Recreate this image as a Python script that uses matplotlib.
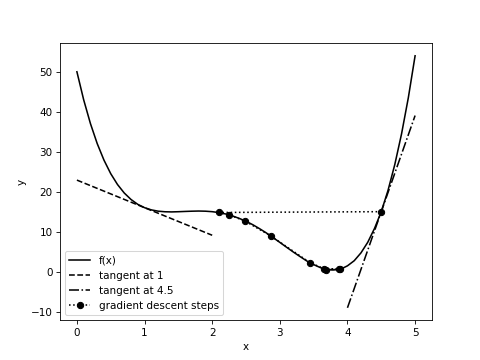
import matplotlib
matplotlib.use("Agg")
import matplotlib.pyplot as plt

# f(x) samples
fx_x = [0.0, 0.1, 0.2, 0.3, 0.4, 0.5, 0.6, 0.7, 0.8, 0.9,
        1.0, 1.1, 1.2, 1.3, 1.4, 1.5, 1.6, 1.7, 1.8, 1.9,
        2.0, 2.1, 2.2, 2.3, 2.4, 2.5, 2.6, 2.7, 2.8, 2.9,
        3.0, 3.1, 3.2, 3.3, 3.4, 3.5, 3.6, 3.7, 3.8, 3.9,
        4.0, 4.1, 4.2, 4.3, 4.4, 4.5, 4.6, 4.7, 4.8, 4.9, 5.0]
fx_y = [50.0, 42.99, 37.04, 32.04, 27.90, 24.51, 21.80, 19.67, 18.05, 16.83,
        16.00, 15.45, 15.13, 14.98, 14.94, 14.99, 15.06, 15.12, 15.16, 15.12,
        15.00, 14.77, 14.42, 13.94, 13.32, 12.60, 11.74, 10.75, 9.69, 8.51,
        7.32, 6.10, 4.90, 3.76, 2.65, 1.76, 1.00, 0.47, 0.43, 0.62,
        1.45, 2.73, 4.70, 7.34, 10.80, 15.00, 20.34, 26.80, 34.48, 43.51, 54.00]

# tangent lines
tan1_x = [0.0, 2.0]
tan1_y = [22.9, 9.1]
tan45_x = [4.0, 5.0]
tan45_y = [-9.05, 39.05]

# gradient descent steps
gd_x = [4.5, 2.10, 2.25, 2.48, 2.87, 3.45, 3.66, 3.89, 3.68, 3.87]
gd_y = [15.0, 14.8, 14.2, 12.7, 8.9, 2.2, 0.7, 0.6, 0.5, 0.55]

fig, ax = plt.subplots(figsize=(6.4, 4.8), dpi=75)
ax.plot(fx_x, fx_y, 'k-', label='f(x)')
ax.plot(tan1_x, tan1_y, 'k--', label='tangent at 1')
ax.plot(tan45_x, tan45_y, 'k-.', label='tangent at 4.5')
ax.plot(gd_x, gd_y, 'k:o', label='gradient descent steps')
ax.set_xlabel('x')
ax.set_ylabel('y')
ax.legend(loc='lower left')
fig.savefig('out.png', dpi=75)
